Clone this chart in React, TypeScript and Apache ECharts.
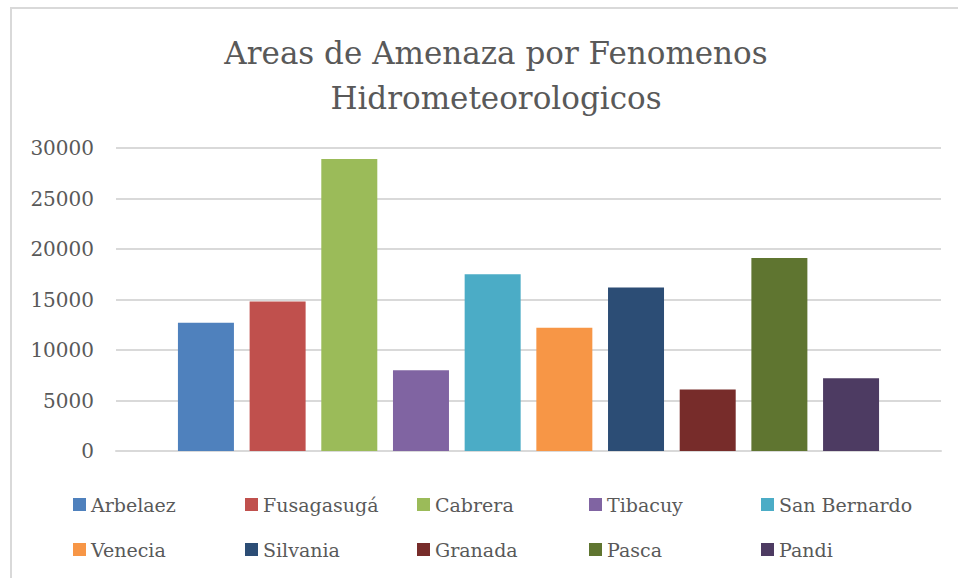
import React, { useEffect, useRef } from "react";
import * as echarts from "echarts";

const titleLines = ["Areas de Amenaza por Fenomenos", "Hidrometeorologicos"];
const categories = [""];
const seriesNames = [
  "Arbelaez",
  "Fusagasugá",
  "Cabrera",
  "Tibacuy",
  "San Bernardo",
  "Venecia",
  "Silvania",
  "Granada",
  "Pasca",
  "Pandi",
];
const seriesValues = [12700, 14800, 28900, 8000, 17500, 12200, 16200, 6100, 19100, 7200];
const seriesColors = [
  "#4F81BD",
  "#C0504D",
  "#9BBB59",
  "#8064A2",
  "#4BACC6",
  "#F79646",
  "#2C4D75",
  "#772C2A",
  "#5F7530",
  "#4D3B62",
];
const yMin = 0;
const yMax = 30000;
const yInterval = 5000;

const FONT = "DejaVu Serif";
const TEXT = "#595959";

export default function App() {
  const ref = useRef<HTMLDivElement>(null);
  useEffect(() => {
    if (!ref.current) return;
    const chart = echarts.init(ref.current, null, { renderer: "svg" });
    const legendCols = [73, 245, 417, 589, 761];
    const legendRows = [495, 540];
    const legends = seriesNames.map((name, i) => ({
      show: true,
      data: [name],
      left: legendCols[i % 5],
      top: legendRows[Math.floor(i / 5)],
      padding: 0,
      itemWidth: 13,
      itemHeight: 13,
      icon: "rect",
      selectedMode: false,
      textStyle: { fontFamily: FONT, fontSize: 19, color: TEXT },
    }));
    chart.setOption({
      animation: false,
      backgroundColor: "#ffffff",
      textStyle: { fontFamily: FONT },
      title: {
        text: titleLines.join("\n"),
        left: 491,
        textAlign: "center",
        top: 25,
        textStyle: {
          fontFamily: FONT,
          fontSize: 31,
          fontWeight: "normal",
          color: TEXT,
          lineHeight: 45,
        },
      },
      graphic: [
        {
          type: "rect",
          shape: { x: 11, y: 8, width: 990, height: 620 },
          style: { fill: "none", stroke: "#d9d9d9", lineWidth: 2 },
          silent: true,
        },
      ],
      legend: legends,
      grid: { left: 116, right: 17, top: 148, bottom: 127, containLabel: false },
      xAxis: {
        type: "category",
        data: categories,
        axisLine: { show: true, lineStyle: { color: "#d9d9d9", width: 2 } },
        axisTick: { show: false },
        axisLabel: { show: false },
      },
      yAxis: {
        type: "value",
        min: yMin,
        max: yMax,
        interval: yInterval,
        axisLine: { show: false },
        axisTick: { show: false },
        axisLabel: {
          fontFamily: FONT,
          fontSize: 20,
          color: TEXT,
          margin: 22,
          formatter: (v: number) => String(v),
        },
        splitLine: { lineStyle: { color: "#d9d9d9", width: 2 } },
      },
      series: seriesNames.map((name, i) => ({
        name,
        type: "bar",
        data: [seriesValues[i]],
        barWidth: 56,
        barGap: "28%",
        itemStyle: { color: seriesColors[i] },
      })),
    });
    return () => chart.dispose();
  }, []);
  return <div ref={ref} style={{ width: 958, height: 578, position: "absolute", left: 0, top: 0 }} />;
}
